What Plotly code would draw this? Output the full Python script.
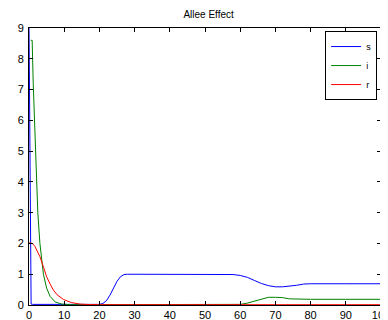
import plotly.graph_objects as go

title = "Allee Effect"

t_s = [0, 0.6, 1, 5, 10, 15, 20, 21, 22, 23, 24, 25, 26, 27, 28, 30, 40, 50, 55, 58, 60, 62, 64, 66, 68, 70, 72, 74, 76, 78, 80, 90, 100]
s = [9.2, 0.03, 0.02, 0.02, 0.02, 0.02, 0.02, 0.05, 0.14, 0.32, 0.55, 0.77, 0.92, 0.99, 1.0, 1.0, 1.0, 1.0, 1.0, 0.99, 0.96, 0.9, 0.8, 0.7, 0.63, 0.59, 0.59, 0.61, 0.64, 0.68, 0.69, 0.69, 0.69]

t_i = [0.5, 0.9, 1.2, 1.5, 1.8, 2.0, 2.5, 3.1, 4.1, 5.0, 6.0, 7.4, 9.3, 12, 20, 40, 58, 60, 62, 64, 66, 68, 70, 72, 74, 76, 80, 90, 100]
i = [8.6, 8.6, 7.2, 6.2, 5.3, 4.6, 3.0, 2.0, 1.0, 0.55, 0.28, 0.1, 0.03, 0.01, 0.01, 0.01, 0.01, 0.02, 0.06, 0.13, 0.2, 0.25, 0.25, 0.24, 0.2, 0.19, 0.185, 0.185, 0.185]

t_r = [0, 1, 1.7, 3.1, 4.1, 5.0, 6.0, 6.9, 8.0, 9.8, 12, 14.5, 17, 20, 40, 60, 80, 100]
r = [2.02, 2.0, 1.9, 1.57, 1.24, 0.92, 0.68, 0.49, 0.33, 0.18, 0.08, 0.03, 0.015, 0.01, 0.01, 0.01, 0.01, 0.01]

x_ticks = [0, 10, 20, 30, 40, 50, 60, 70, 80, 90, 100]
y_ticks = [0, 1, 2, 3, 4, 5, 6, 7, 8, 9]

FONT = "Liberation Sans, Arial, sans-serif"

fig = go.Figure()
fig.add_trace(go.Scatter(x=t_s, y=s, mode="lines", name="s", line=dict(color="#0000ff", width=1)))
fig.add_trace(go.Scatter(x=t_i, y=i, mode="lines", name="i", line=dict(color="#008000", width=1)))
fig.add_trace(go.Scatter(x=t_r, y=r, mode="lines", name="r", line=dict(color="#ff0000", width=1)))

axis_common = dict(showgrid=False, zeroline=False, showline=True, linecolor="black", linewidth=1,
                   mirror="allticks", ticks="inside", ticklen=4, tickcolor="black",
                   automargin=False, ticklabeloverflow="allow",
                   tickfont=dict(family=FONT, size=11, color="black"))

# The page body adds an 8px offset, so the figure is 8px smaller than the window.
fig.update_layout(
    width=380, height=312,
    margin=dict(l=21, r=7, t=20, b=15, autoexpand=False),
    paper_bgcolor="white", plot_bgcolor="white",
    title=dict(text=title, x=0.528, xanchor="center", yref="container", y=0.978, yanchor="middle",
               automargin=False, pad=dict(t=0, b=0, l=0, r=0),
               font=dict(family=FONT, size=10, color="black")),
    xaxis=dict(range=[0, 100], tickvals=x_ticks, **axis_common),
    yaxis=dict(range=[0, 9], tickvals=y_ticks, ticklabelstandoff=2, **axis_common),
    legend=dict(x=0.989, y=0.989, xanchor="right", yanchor="top", bgcolor="white",
                bordercolor="black", borderwidth=1, itemwidth=30, tracegroupgap=0,
                font=dict(family=FONT, size=9, color="black")),
    showlegend=True,
)

fig.write_html("out.html")
